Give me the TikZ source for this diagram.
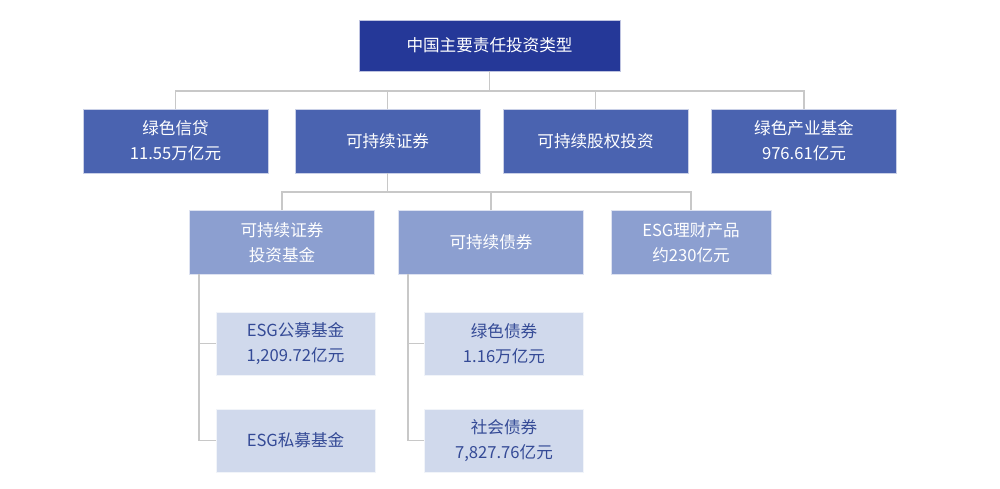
\documentclass[tikz,border=0pt]{standalone}
\usepackage{fontspec}
\setmainfont{Noto Sans CJK SC}
\usepackage{xcolor}
\usetikzlibrary{positioning}
\definecolor{topblue}{RGB}{37,56,152}
\definecolor{midblue}{RGB}{74,99,176}
\definecolor{lightblue}{RGB}{140,159,208}
\definecolor{paleblue}{RGB}{208,217,236}
\definecolor{textblue}{RGB}{52,74,150}
\definecolor{linegray}{RGB}{200,200,200}

\begin{document}
\begin{tikzpicture}[x=0.5pt,y=-0.5pt,
  box/.style={draw=white!70!#1,line width=0.4pt,fill=#1,align=center,inner sep=0pt,
    font=\fontsize{8.3}{12.5}\selectfont,minimum width=92.5pt,minimum height=32pt},
  lvltop/.style={box=topblue,text=white,minimum width=130.5pt,minimum height=25.5pt},
  lvltwo/.style={box=midblue,text=white},
  lvlthree/.style={box=lightblue,text=white},
  lvlfour/.style={box=paleblue,text=textblue,minimum width=79.5pt,minimum height=31.5pt},
  link/.style={draw=linegray,line width=0.8pt}]
\useasboundingbox (0,0) rectangle (1000,488);

\node[lvltop] (top) at (489.5,45.5) {中国主要责任投资类型};

\node[lvltwo] (credit) at (175.5,141) {绿色信贷\\11.55万亿元};
\node[lvltwo] (secur) at (387.5,141) {可持续证券};
\node[lvltwo] (equity) at (595.5,141) {可持续股权投资};
\node[lvltwo] (indfund) at (804,141) {绿色产业基金\\976.61亿元};

\node[lvlthree] (fund) at (282,242.5) {可持续证券\\投资基金};
\node[lvlthree] (bond) at (491,242.5) {可持续债券};
\node[lvlthree,minimum width=80pt] (wealth) at (691,242.5) {ESG理财产品\\约230亿元};

\node[lvlfour] (pubfund) at (295.5,343.5) {ESG公募基金\\1,209.72亿元};
\node[lvlfour] (privfund) at (295.5,440.5) {ESG私募基金};
\node[lvlfour] (greenbond) at (504,343.5) {绿色债券\\1.16万亿元};
\node[lvlfour] (socbond) at (504,440.5) {社会债券\\7,827.76亿元};

\coordinate (bus1) at (489.5,91);
\coordinate (bus2) at (387.5,192);
\coordinate (trunka) at (199,274);
\coordinate (trunkb) at (408,274);

% level one
\draw[link] (top.south) -- (bus1);
\draw[link] (credit.north) -- (credit.north |- bus1) -- (indfund.north |- bus1) -- (indfund.north);
\draw[link] (secur.north) -- (secur.north |- bus1);
\draw[link] (equity.north) -- (equity.north |- bus1);

% level two
\draw[link] (secur.south) -- (bus2);
\draw[link] (fund.north) -- (fund.north |- bus2) -- (wealth.north |- bus2) -- (wealth.north);
\draw[link] (bond.north) -- (bond.north |- bus2);

% level three
\draw[link] (trunka) |- (pubfund.west);
\draw[link] (trunka) |- (privfund.west);
\draw[link] (trunkb) |- (greenbond.west);
\draw[link] (trunkb) |- (socbond.west);
\end{tikzpicture}
\end{document}
